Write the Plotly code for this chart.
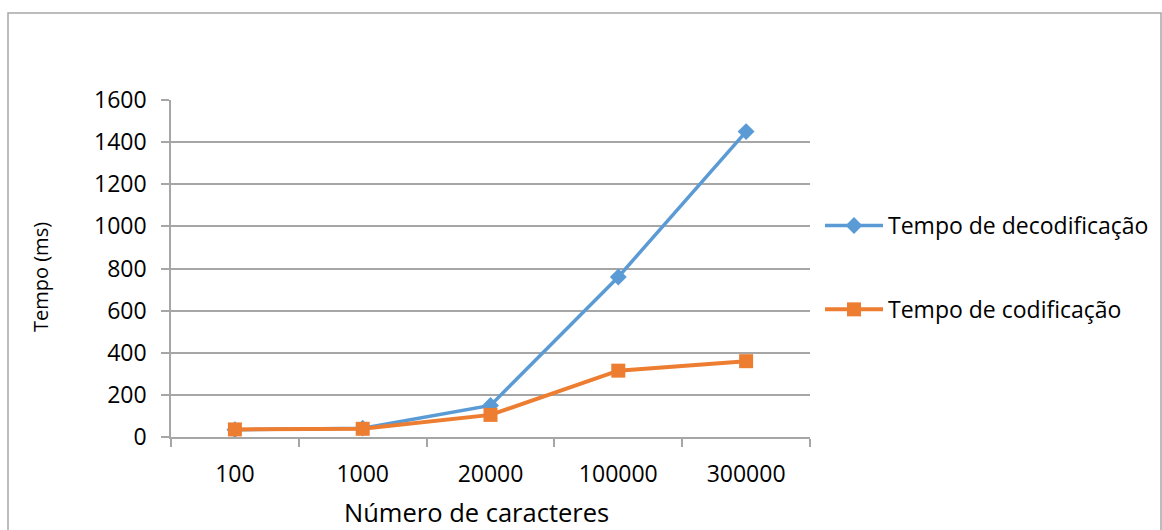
import plotly.graph_objects as go

# Tempo de execução por tamanho de entrada
categorias = ["100", "1000", "20000", "100000", "300000"]
tempo_decodificacao = [35, 42, 150, 760, 1450]
tempo_codificacao = [36, 39, 105, 315, 360]

AZUL = "#5B9BD5"
LARANJA = "#ED7D31"
CINZA = "#A6A6A6"
FONTE = "Open Sans, Noto Sans, sans-serif"

W, H = 1162, 530
L, R, T, B = 171, 810, 100, 437  # pixel bounds of the plotting area
pw, ph = R - L, B - T

fig = go.Figure()
fig.add_trace(go.Scatter(
    x=categorias, y=tempo_decodificacao, mode="lines+markers",
    name="Tempo de decodificação", legendgroup="dec",
    line=dict(color=AZUL, width=3.5),
    marker=dict(symbol="diamond", size=13, color=AZUL),
))
fig.add_trace(go.Scatter(
    x=categorias, y=tempo_codificacao, mode="lines+markers",
    name="Tempo de codificação", legendgroup="cod",
    line=dict(color=LARANJA, width=4),
    marker=dict(symbol="square", size=14, color=LARANJA),
))

def px_x(x):
    return (x - L) / pw

def px_y(y):
    return (B - y) / ph

# outer chart frame
fig.add_shape(type="rect", xref="paper", yref="paper",
              x0=px_x(8), x1=px_x(1161), y0=px_y(545), y1=px_y(13),
              line=dict(color=CINZA, width=1.5), fillcolor="rgba(0,0,0,0)",
              layer="below")

# axis titles
fig.add_annotation(
    text="Número de caracteres", xref="paper", yref="paper",
    x=px_x(476.5), y=px_y(512), xanchor="center", yanchor="middle",
    showarrow=False, font=dict(family=FONTE, size=25.5, color="#000000"),
)
fig.add_annotation(
    text="Tempo (ms)", xref="paper", yref="paper", textangle=-90,
    x=px_x(40), y=px_y(277), xanchor="center", yanchor="middle",
    showarrow=False, font=dict(family=FONTE, size=20, color="#000000"),
)

fig.update_layout(
    width=W, height=H,
    margin=dict(l=L, r=W - R, t=T, b=H - B, autoexpand=False),
    paper_bgcolor="white", plot_bgcolor="white",
    font=dict(family=FONTE, size=23, color="#000000"),
    showlegend=True,
    legend=dict(
        x=px_x(820), y=px_y(204), xanchor="left", yanchor="top",
        font=dict(size=23), tracegroupgap=51, itemwidth=58,
        bgcolor="rgba(0,0,0,0)",
    ),
    xaxis=dict(
        type="category", range=[-0.5, 4.5],
        showgrid=False, showline=True, linecolor=CINZA, linewidth=1.5,
        ticks="outside", tickson="boundaries", ticklen=8, tickcolor=CINZA,
        tickwidth=1.5, tickfont=dict(size=23), ticklabelstandoff=16,
    ),
    yaxis=dict(
        range=[0, 1600], tickvals=[0, 200, 400, 600, 800, 1000, 1200, 1400, 1600],
        showgrid=True, gridcolor=CINZA, gridwidth=1.5,
        showline=True, linecolor=CINZA, linewidth=1.5,
        ticks="outside", ticklen=8, tickcolor=CINZA, tickwidth=1.5,
        tickfont=dict(size=23), zeroline=False, ticklabelstandoff=10,
    ),
)

fig.write_html("out.html")
